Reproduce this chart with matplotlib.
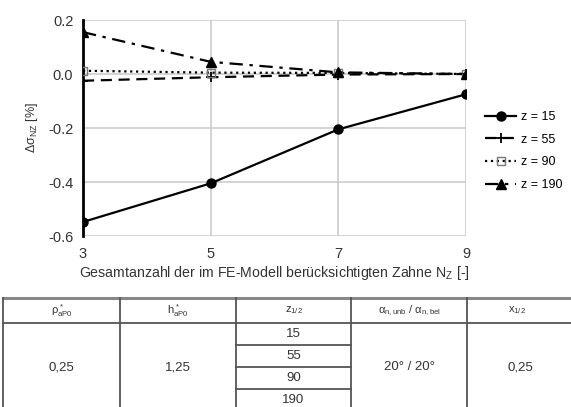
import matplotlib
matplotlib.use("Agg")
import matplotlib.pyplot as plt

plt.rcParams['font.family'] = ['Liberation Sans', 'DejaVu Sans']
plt.rcParams['mathtext.fontset'] = 'custom'
plt.rcParams['mathtext.rm'] = 'Liberation Sans'
plt.rcParams['mathtext.it'] = 'Liberation Sans'

# ---- data ----
n_teeth = [3, 5, 7, 9]
z15 = [-0.548, -0.405, -0.205, -0.075]
z55 = [-0.025, -0.012, -0.002, 0.0]
z90 = [0.012, 0.005, 0.004, 0.0]
z190 = [0.155, 0.045, 0.006, 0.0]
series_labels = ['z = 15', 'z = 55', 'z = 90', 'z = 190']
y_ticks = [-0.6, -0.4, -0.2, 0.0, 0.2]

table_headers = [r'$\rho^*_{aP0}$', r'$h^*_{aP0}$', r'$z_{1/2}$',
                 r'$\alpha_{n,unb}$ / $\alpha_{n,bel}$', r'$x_{1/2}$']
table_rho = '0,25'
table_h = '1,25'
table_z = ['15', '55', '90', '190']
table_alpha = '20° / 20°'
table_x = '0,25'

W, H = 571, 407
fig = plt.figure(figsize=(W / 100, H / 100), dpi=100)
ax = fig.add_axes([83 / W, 1 - 236 / H, (466 - 83) / W, (236 - 20) / H])

c = 'black'
ax.plot(n_teeth, z15, '-', color=c, lw=1.6, marker='o', ms=6.5, label=series_labels[0], zorder=5)
ax.plot(n_teeth, z55, '--', color=c, lw=1.6, marker='+', ms=7, mew=1.3, label=series_labels[1], zorder=5,
        dashes=(5, 3))
ax.plot(n_teeth, z90, ':', color=c, lw=1.6, marker='s', ms=6, mfc='none', mec='#777777', label=series_labels[2], zorder=5)
ax.plot(n_teeth, z190, '-.', color=c, lw=1.6, marker='^', ms=6.5, label=series_labels[3], zorder=5,
        dashes=(6, 3, 1.5, 3))

ax.set_xlim(3, 9)
ax.set_ylim(-0.6, 0.2)
ax.set_xticks([3, 5, 7, 9])
ax.set_yticks(y_ticks)
ax.set_yticklabels([f'{v:.1f}' for v in y_ticks])
ax.grid(True, color='#cccccc', lw=1.2)
ax.set_axisbelow(True)
for s in ['top', 'right', 'bottom']:
    ax.spines[s].set_visible(False)
ax.spines['left'].set_color('black')
ax.spines['left'].set_linewidth(2)
ax.tick_params(length=0, labelsize=10.5, colors='#333333', pad=7)
ax.tick_params(axis='x', pad=8)
ax.set_xlabel('Gesamtanzahl der im FE-Modell berücksichtigten Zahne N$_Z$ [-]',
              fontsize=10.2, color='#333333', labelpad=2)
ax.set_ylabel(r'$\Delta\sigma_{NZ}$ [%]', fontsize=9, color='#333333', labelpad=6)

fig.legend(loc='center left', bbox_to_anchor=(485 / W, 1 - 151 / H), frameon=False,
           fontsize=9, handlelength=2.5, handletextpad=0.4, labelspacing=0.85,
           borderaxespad=0, borderpad=0)

# ---- table ----
tax = fig.add_axes([0, 0, 1, 1])
tax.set_xlim(0, W)
tax.set_ylim(H, 0)
tax.axis('off')
col_x = [3, 120, 236, 351, 467, 583]
top, hdr, row_h = 298, 323, 22
lc = '#555555'
tax.plot([col_x[0], col_x[-1]], [top, top], color='#888888', lw=2.2)
tax.plot([col_x[0], col_x[-1]], [hdr, hdr], color=lc, lw=1.3)
for xv in col_x:
    tax.plot([xv, xv], [top, H + 20], color=lc, lw=1.3)
for i in range(1, 4):
    yv = hdr + i * row_h
    tax.plot([col_x[2], col_x[3]], [yv, yv], color=lc, lw=1.3)
tc = '#333333'
for i, h in enumerate(table_headers):
    tax.text((col_x[i] + col_x[i + 1]) / 2 - (8 if i == 4 else 0), (top + hdr) / 2, h,
             ha='center', va='center', fontsize=8, color=tc)
mid = hdr + 2 * row_h
fs = 9.5
tax.text((col_x[0] + col_x[1]) / 2, mid, table_rho, ha='center', va='center', fontsize=fs, color=tc)
tax.text((col_x[1] + col_x[2]) / 2, mid, table_h, ha='center', va='center', fontsize=fs, color=tc)
tax.text((col_x[3] + col_x[4]) / 2, mid, table_alpha, ha='center', va='center', fontsize=fs, color=tc)
tax.text((col_x[4] + col_x[5]) / 2 - 5, mid, table_x, ha='center', va='center', fontsize=fs, color=tc)
for i, zv in enumerate(table_z):
    tax.text((col_x[2] + col_x[3]) / 2, hdr + (i + 0.5) * row_h, zv,
             ha='center', va='center', fontsize=fs, color=tc)

fig.savefig('out.png', dpi=100)
